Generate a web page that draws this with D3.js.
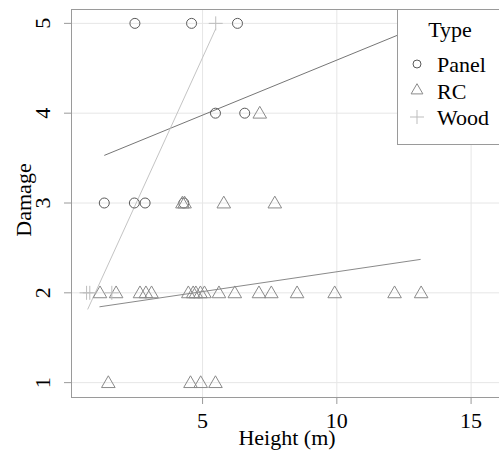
<!DOCTYPE html>
<html>
  <head>
    <meta charset="utf-8">
    <script src="https://d3js.org/d3.v7.min.js"></script>
    <style>
      body { margin: 0; background: #fff; }
    </style>
  </head>
  <body>
    <div id="chart"></div>

    <script>

        // values
        let types    = ['Panel', 'RC', 'Wood'],
            xTicks   = [5, 10, 15],
            yTicks   = [1, 2, 3, 4, 5],

            panelX   = [2.48, 4.59, 6.30, 5.48, 6.57, 1.34, 2.46, 2.86, 4.30],
            panelY   = [5, 5, 5, 4, 4, 3, 3, 3, 3],

            rcX      = [7.13, 4.25, 4.33, 5.79, 7.69,
                        1.18, 1.78, 2.67, 2.89, 3.10, 4.47, 4.65, 4.75, 4.92, 5.07, 5.61, 6.20,
                        7.10, 7.56, 8.52, 9.92, 12.15, 13.14,
                        1.49, 4.55, 4.93, 5.48],
            rcY      = [4, 3, 3, 3, 3,
                        2, 2, 2, 2, 2, 2, 2, 2, 2, 2, 2, 2,
                        2, 2, 2, 2, 2, 2,
                        1, 1, 1, 1],

            woodX    = [0.68, 0.80, 1.62, 5.49],
            woodY    = [2, 2, 2, 5],

            // fitted lines per type: [x0, y0, x1, y1]
            fitPanel = [1.34, 3.53, 13.5, 5.02],
            fitRC    = [1.16, 1.844, 13.12, 2.372],
            fitWood  = [0.72, 1.815, 5.49, 4.94];

        let width  = 499,
            height = 452,
            pLeft = 71, pRight = 506, pTop = 9, pBottom = 397,
            font = '"Liberation Serif"';

        let styles = {
            Panel: { pt: '#5a5a5a', line: '#767676' },
            RC:    { pt: '#8a8a8a', line: '#8a8a8a' },
            Wood:  { pt: '#bdbdbd', line: '#c4c4c4' }
        };

        let svg = d3.select('#chart').append('svg')
            .attr('width', width)
            .attr('height', height)
            .style('display', 'block');

        // every label goes through here so the serif font sticks
        function label(sel) {
            return sel.append('text')
                .attr('font-family', font)
                .attr('font-size', 22)
                .attr('fill', '#000');
        }

        let x = d3.scaleLinear().domain([0.1, 16.3]).range([pLeft, pRight]),
            y = d3.scaleLinear().domain([0.84, 5.16]).range([pBottom, pTop]);

        // grid
        svg.append('g').selectAll('line').data(xTicks).enter().append('line')
            .attr('x1', d => x(d)).attr('x2', d => x(d))
            .attr('y1', pTop).attr('y2', pBottom)
            .attr('stroke', '#e6e6e6');
        svg.append('g').selectAll('line').data(yTicks).enter().append('line')
            .attr('x1', pLeft).attr('x2', pRight)
            .attr('y1', d => y(d)).attr('y2', d => y(d))
            .attr('stroke', '#e6e6e6');

        // fit lines
        let fits = [['Panel', fitPanel], ['RC', fitRC], ['Wood', fitWood]];
        svg.append('g').selectAll('line').data(fits).enter().append('line')
            .attr('x1', d => x(d[1][0])).attr('y1', d => y(d[1][1]))
            .attr('x2', d => x(d[1][2])).attr('y2', d => y(d[1][3]))
            .attr('stroke', d => styles[d[0]].line)
            .attr('stroke-width', 1);

        let zip = (xs, ys) => xs.map((v, i) => ({ x: v, y: ys[i] }));

        let triangle = d3.symbol().type(d3.symbolTriangle).size(80),
            plus     = 'M-7,0H7M0,-7V7';

        // points
        svg.append('g').selectAll('circle').data(zip(panelX, panelY)).enter().append('circle')
            .attr('cx', d => x(d.x)).attr('cy', d => y(d.y)).attr('r', 5)
            .attr('fill', 'none').attr('stroke', styles.Panel.pt);

        svg.append('g').selectAll('path').data(zip(rcX, rcY)).enter().append('path')
            .attr('d', triangle)
            .attr('transform', d => `translate(${x(d.x)},${y(d.y) + 1})`)
            .attr('fill', 'none').attr('stroke', styles.RC.pt);

        svg.append('g').selectAll('path').data(zip(woodX, woodY)).enter().append('path')
            .attr('d', plus)
            .attr('transform', d => `translate(${x(d.x)},${y(d.y)})`)
            .attr('fill', 'none').attr('stroke', styles.Wood.pt);

        // frame
        svg.append('rect')
            .attr('x', pLeft + 0.5).attr('y', pTop + 0.5)
            .attr('width', pRight - pLeft).attr('height', pBottom - pTop)
            .attr('fill', 'none').attr('stroke', '#9a9a9a');

        // axes
        let xAxis = svg.append('g');
        xAxis.selectAll('line').data(xTicks).enter().append('line')
            .attr('x1', d => x(d)).attr('x2', d => x(d))
            .attr('y1', pBottom).attr('y2', pBottom + 7)
            .attr('stroke', '#9a9a9a');
        xTicks.forEach(t => {
            label(xAxis)
                .attr('x', x(t)).attr('y', 428)
                .attr('text-anchor', 'middle')
                .text(t);
        });

        let yAxis = svg.append('g');
        yAxis.selectAll('line').data(yTicks).enter().append('line')
            .attr('x1', pLeft - 7).attr('x2', pLeft)
            .attr('y1', d => y(d)).attr('y2', d => y(d))
            .attr('stroke', '#9a9a9a');
        yTicks.forEach(t => {
            label(yAxis)
                .attr('transform', `translate(50,${y(t)}) rotate(-90)`)
                .attr('text-anchor', 'middle')
                .text(t);
        });

        label(svg)
            .attr('x', 287).attr('y', 445)
            .attr('text-anchor', 'middle')
            .text('Height (m)');

        label(svg)
            .attr('transform', 'translate(31,200) rotate(-90)')
            .attr('text-anchor', 'middle')
            .text('Damage');

        // legend
        let lg = svg.append('g');
        lg.append('rect')
            .attr('x', 397.5).attr('y', pTop + 0.5)
            .attr('width', 130).attr('height', 135)
            .attr('fill', '#fff').attr('stroke', '#9a9a9a');
        label(lg)
            .attr('x', 450).attr('y', 37)
            .attr('text-anchor', 'middle')
            .text('Type');

        types.forEach((t, i) => {
            let row = lg.append('g')
                .attr('transform', `translate(417,${64 + i * 26.5})`);
            label(row).attr('x', 20).attr('y', 8).text(t);
            if (t === 'Panel')
                row.append('circle')
                    .attr('r', 4).attr('fill', 'none').attr('stroke', styles.Panel.pt);
            if (t === 'RC')
                row.append('path')
                    .attr('d', d3.symbol().type(d3.symbolTriangle).size(60))
                    .attr('fill', 'none').attr('stroke', styles.RC.pt);
            if (t === 'Wood')
                row.append('path')
                    .attr('d', plus)
                    .attr('fill', 'none').attr('stroke', styles.Wood.pt);
        });

    </script>
  </body>
</html>
